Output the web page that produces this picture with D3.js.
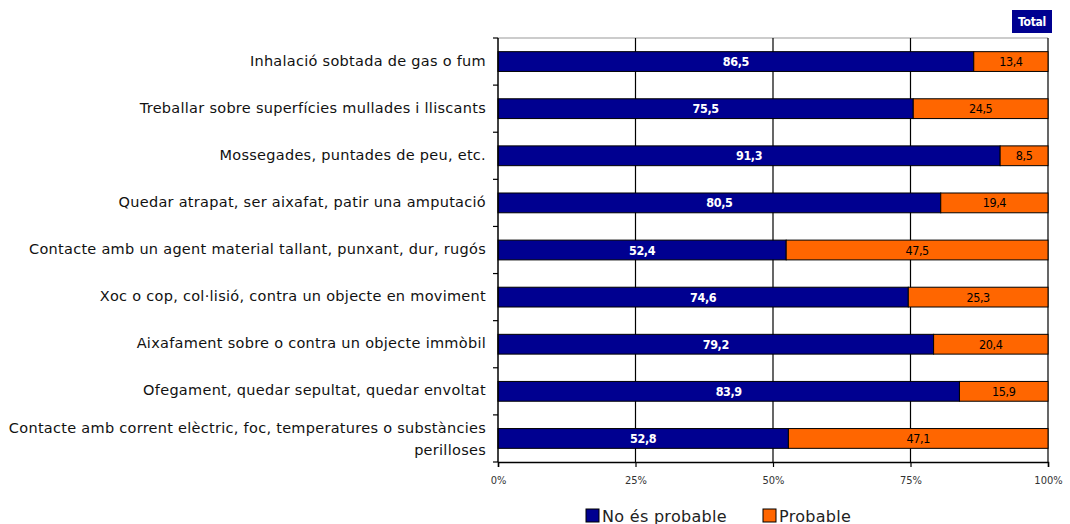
<!DOCTYPE html>
<html>
<head>
<meta charset="utf-8">
<script src="https://cdn.jsdelivr.net/npm/d3@7"></script>
<style>
  body { margin: 0; background: #fff; }
  svg { font-family: 'DejaVu Sans', sans-serif; }
</style>
</head>
<body>
<svg width="1070" height="524"></svg>
<script>
const categories = [
    ['Inhalació sobtada de gas o fum'],
    ['Treballar sobre superfícies mullades i lliscants'],
    ['Mossegades, puntades de peu, etc.'],
    ['Quedar atrapat, ser aixafat, patir una amputació'],
    ['Contacte amb un agent material tallant, punxant, dur, rugós'],
    ['Xoc o cop, col·lisió, contra un objecte en moviment'],
    ['Aixafament sobre o contra un objecte immòbil'],
    ['Ofegament, quedar sepultat, quedar envoltat'],
    ['Contacte amb corrent elèctric, foc, temperatures o substàncies', 'perilloses']
];
const noProbable = [86.5, 75.5, 91.3, 80.5, 52.4, 74.6, 79.2, 83.9, 52.8];
const probable = [13.4, 24.5, 8.5, 19.4, 47.5, 25.3, 20.4, 15.9, 47.1];
const xTicks = [0, 25, 50, 75, 100];
const seriesNames = ['No és probable', 'Probable'];
const colors = ['#000090', '#ff6600'];

const svg = d3.select('svg');
const margin = { top: 38, left: 498, right: 22, bottom: 62 };
const width = +svg.attr('width');
const height = +svg.attr('height');
const innerWidth = width - margin.left - margin.right;
const innerHeight = height - margin.top - margin.bottom;

const g = svg.append('g')
    .attr('transform', `translate(${margin.left},${margin.top})`);

const xScale = d3.scaleLinear().domain([0, 100]).range([0, innerWidth]);
const yScale = d3.scaleBand()
    .domain(d3.range(categories.length))
    .range([0, innerHeight])
    .paddingInner(0.58)
    .paddingOuter(0.29);

// top border
g.append('line')
    .attr('x1', 0).attr('x2', innerWidth)
    .attr('y1', 0).attr('y2', 0)
    .attr('stroke', '#bbb').attr('stroke-width', 1.5);

// vertical grid
g.selectAll('.grid').data(xTicks.slice(1))
    .enter().append('line')
        .attr('x1', d => xScale(d)).attr('x2', d => xScale(d))
        .attr('y1', 0).attr('y2', innerHeight)
        .attr('stroke', '#000').attr('stroke-width', 1.2);

// bars
const rows = categories.map((c, i) => ({ i, no: noProbable[i], p: probable[i] }));

g.selectAll('.bar-no').data(rows)
    .enter().append('rect')
        .attr('x', 0)
        .attr('y', d => yScale(d.i))
        .attr('width', d => xScale(d.no))
        .attr('height', yScale.bandwidth())
        .attr('fill', colors[0])
        .attr('stroke', '#000').attr('stroke-width', 1);

g.selectAll('.bar-p').data(rows)
    .enter().append('rect')
        .attr('x', d => xScale(d.no))
        .attr('y', d => yScale(d.i))
        .attr('width', d => xScale(100) - xScale(d.no))
        .attr('height', yScale.bandwidth())
        .attr('fill', colors[1])
        .attr('stroke', '#000').attr('stroke-width', 1);

const fmt = v => v.toFixed(1).replace('.', ',');

g.selectAll('.lab-no').data(rows)
    .enter().append('text')
        .attr('x', d => xScale(d.no / 2))
        .attr('y', d => yScale(d.i) + yScale.bandwidth() / 2)
        .attr('dy', '0.36em')
        .attr('text-anchor', 'middle')
        .attr('fill', '#fff')
        .attr('font-family', "'DejaVu Sans Condensed', sans-serif")
        .attr('font-weight', 'bold')
        .attr('letter-spacing', -0.4)
        .attr('font-size', 12.5)
        .text(d => fmt(d.no));

g.selectAll('.lab-p').data(rows)
    .enter().append('text')
        .attr('x', d => xScale(d.no + (100 - d.no) / 2))
        .attr('y', d => yScale(d.i) + yScale.bandwidth() / 2)
        .attr('dy', '0.36em')
        .attr('text-anchor', 'middle')
        .attr('fill', '#000')
        .attr('font-family', "'DejaVu Sans Condensed', sans-serif")
        .attr('letter-spacing', -0.4)
        .attr('font-size', 12.5)
        .text(d => fmt(d.p));

// left axis with ticks at band boundaries
g.append('line')
    .attr('x1', 0).attr('x2', 0)
    .attr('y1', 0).attr('y2', innerHeight)
    .attr('stroke', '#000').attr('stroke-width', 1.5);
const step = innerHeight / categories.length;
g.selectAll('.ytick').data(d3.range(categories.length + 1))
    .enter().append('line')
        .attr('x1', -5).attr('x2', 0)
        .attr('y1', d => d * step).attr('y2', d => d * step)
        .attr('stroke', '#000').attr('stroke-width', 1.2);

// category labels
g.selectAll('.cat').data(categories)
    .enter().append('text')
        .attr('text-anchor', 'end')
        .attr('font-size', 14.5)
        .attr('letter-spacing', 0.28)
        .attr('fill', '#111')
        .each(function(lines, i) {
            const t = d3.select(this);
            const cy = yScale(i) + yScale.bandwidth() / 2;
            const y0 = lines.length > 1 ? cy - 11 : cy - 1;
            lines.forEach((l, k) => {
                t.append('tspan')
                    .attr('x', -12)
                    .attr('y', y0 + k * 22)
                    .attr('dy', '0.35em')
                    .text(l);
            });
        });

// bottom axis
const xAxis = d3.axisBottom(xScale)
    .tickValues(xTicks)
    .tickFormat(d => d + '%')
    .tickSize(5)
    .tickPadding(9);
const xAxisG = g.append('g')
    .attr('transform', `translate(0,${innerHeight})`)
    .call(xAxis);
xAxisG.select('.domain').attr('stroke-width', 1.5);
xAxisG.selectAll('line').attr('stroke-width', 1.2);
xAxisG.selectAll('text')
    .attr('font-family', "'DejaVu Sans Condensed', sans-serif")
    .attr('font-size', 11)
    .attr('fill', '#333');

// Total box
svg.append('rect')
    .attr('x', 1012).attr('y', 10)
    .attr('width', 40).attr('height', 23)
    .attr('fill', colors[0]);
svg.append('text')
    .attr('x', 1032).attr('y', 22)
    .attr('dy', '0.35em')
    .attr('text-anchor', 'middle')
    .attr('fill', '#fff')
    .attr('font-weight', 'bold')
    .attr('font-family', "'DejaVu Sans Condensed', sans-serif")
    .attr('letter-spacing', -0.3)
    .attr('font-size', 12)
    .text('Total');

// legend
const legendX = [586, 763];
const legend = svg.selectAll('.legend').data(seriesNames)
    .enter().append('g')
        .attr('transform', (d, i) => `translate(${legendX[i]},509)`);
legend.append('rect')
    .attr('width', 13).attr('height', 13)
    .attr('fill', (d, i) => colors[i])
    .attr('stroke', '#000').attr('stroke-width', 1);
legend.append('text')
    .attr('x', 16).attr('y', 13)
    .attr('font-size', 16)
    .attr('letter-spacing', 0.3)
    .attr('fill', '#222')
    .text(d => d);
</script>
</body>
</html>
